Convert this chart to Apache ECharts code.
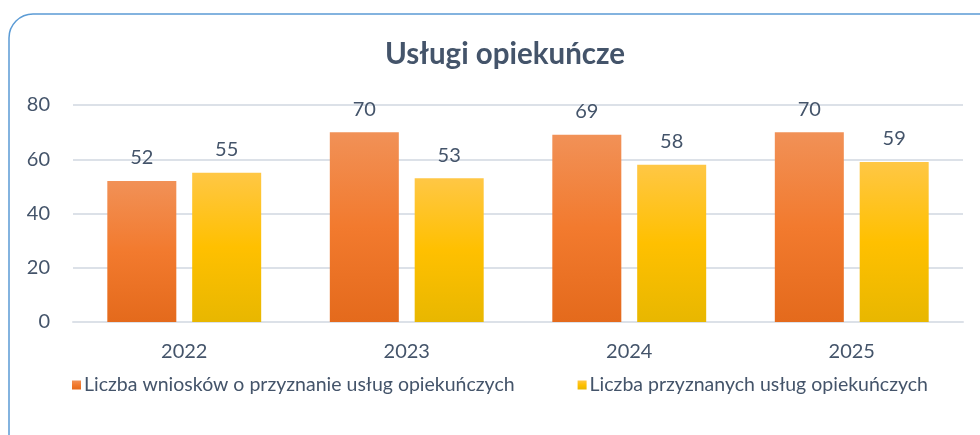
<!DOCTYPE html>
<html>
<head>
<meta charset="utf-8">
<script src="https://cdn.jsdelivr.net/npm/echarts@6/dist/echarts.min.js"></script>
<style>
  html, body { margin: 0; padding: 0; background: #fff; }
  #chart { width: 980px; height: 435px; }
</style>
</head>
<body>
<div id="chart"></div>
<script>
const title = 'Usługi opiekuńcze'
const years = ['2022', '2023', '2024', '2025']
const wnioski = [52, 70, 69, 70]
const przyznane = [55, 53, 58, 59]
const seriesNames = ['Liczba wniosków o przyznanie usług opiekuńczych', 'Liczba przyznanych usług opiekuńczych']

const textColor = '#44546A'
const font = 'Lato'

const chart = echarts.init(document.getElementById('chart'))

const orange = new echarts.graphic.LinearGradient(0, 0, 0, 1, [
  { offset: 0, color: '#F19157' },
  { offset: 0.5, color: '#F27A2E' },
  { offset: 1, color: '#E46A1C' }
])
const yellow = new echarts.graphic.LinearGradient(0, 0, 0, 1, [
  { offset: 0, color: '#FFC745' },
  { offset: 0.5, color: '#FFC000' },
  { offset: 1, color: '#E8B700' }
])

const option = {
  animation: false,
  textStyle: { fontFamily: font, color: textColor },
  graphic: [{
    type: 'rect',
    shape: { x: 9, y: 14, width: 995, height: 445, r: 24 },
    style: { fill: 'none', stroke: '#5B9BD5', lineWidth: 1.5 },
    z: 0
  }],
  title: {
    text: title,
    left: 380,
    top: 34,
    textStyle: { fontFamily: font, fontSize: 29.5, fontWeight: 'bold', color: textColor }
  },
  legend: {
    bottom: 35,
    left: 67,
    itemGap: 63,
    itemWidth: 9,
    itemHeight: 9,
    icon: 'rect',
    textStyle: { fontFamily: font, fontSize: 19.5, color: textColor, padding: [0, 0, 0, -2] },
    data: seriesNames
  },
  grid: { left: 73, right: 17, top: 105, bottom: 113, containLabel: false },
  xAxis: {
    type: 'category',
    data: years,
    axisLine: { lineStyle: { color: '#DCE1E8', width: 2 } },
    axisTick: { show: false },
    axisLabel: { fontSize: 20, color: textColor, margin: 20, fontFamily: font }
  },
  yAxis: {
    type: 'value',
    min: 0,
    max: 80,
    interval: 20,
    axisLine: { show: false },
    axisTick: { show: false },
    axisLabel: { fontSize: 20, color: textColor, margin: 23, fontFamily: font },
    splitLine: { lineStyle: { color: '#DCE1E8', width: 2 } }
  },
  series: [
    {
      name: seriesNames[0],
      type: 'bar',
      data: wnioski,
      barWidth: 69,
      barGap: '23%',
      itemStyle: { color: orange },
      label: { show: true, position: 'top', distance: 13, fontSize: 20, color: textColor, fontFamily: font }
    },
    {
      name: seriesNames[1],
      type: 'bar',
      data: przyznane,
      barWidth: 69,
      barGap: '23%',
      itemStyle: { color: yellow },
      label: { show: true, position: 'top', distance: 13, fontSize: 20, color: textColor, fontFamily: font }
    }
  ]
}

chart.setOption(option)
</script>
</body>
</html>
